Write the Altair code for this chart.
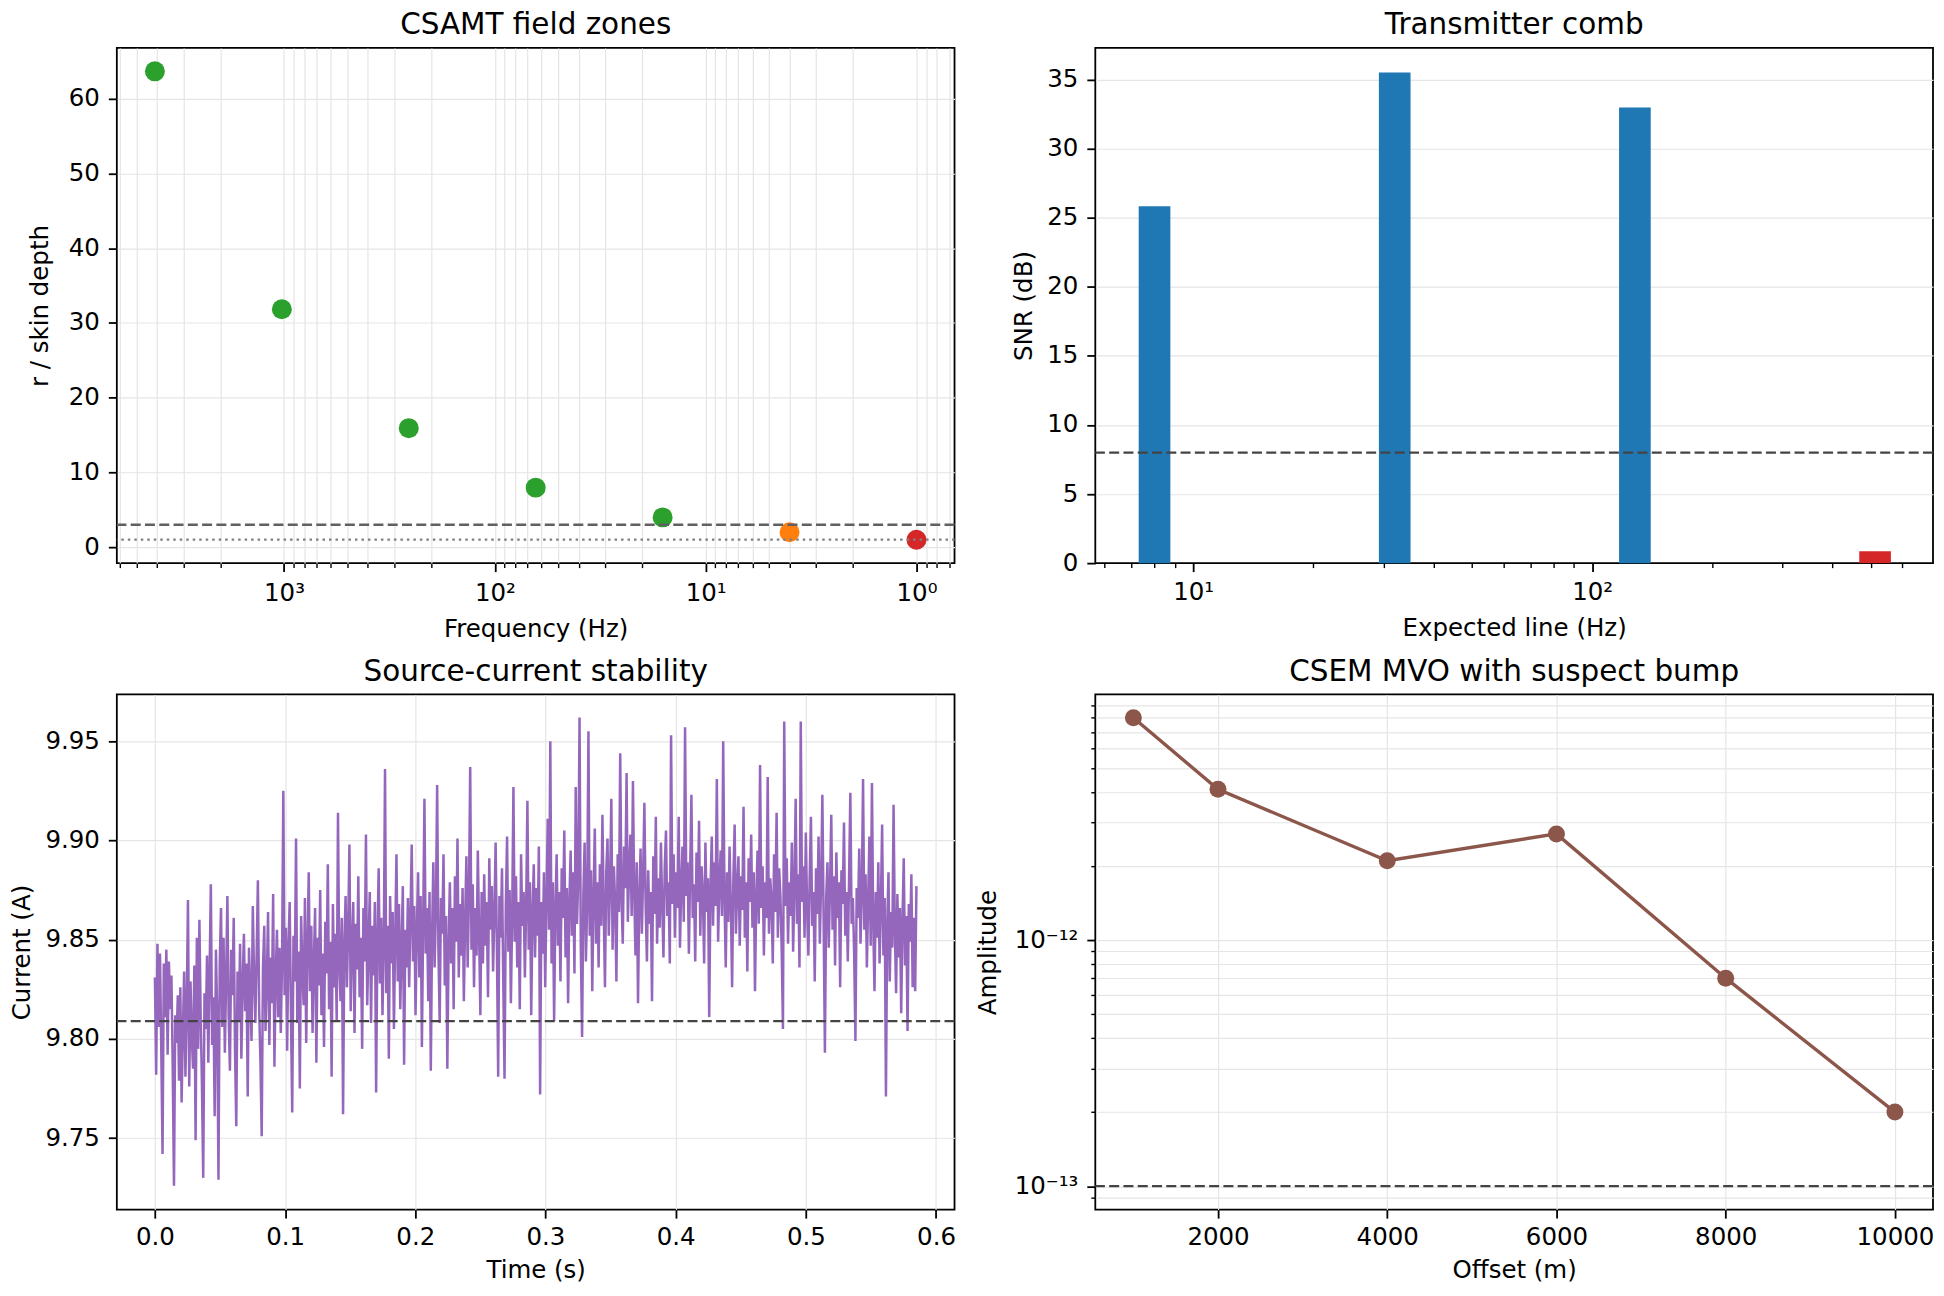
import altair as alt
import pandas as pd

FONT = "DejaVu Sans"

# ---------------- Panel 1: CSAMT field zones ----------------
zone_freq = [4096, 1024, 256, 64, 16, 4, 1]
zone_ratio = [63.66, 31.83, 15.92, 7.96, 3.98, 1.99, 0.995]
zone_class = ["far", "far", "far", "far", "far", "transition", "near"]
zone_names = ["far", "transition", "near"]
zone_colors = ["#2ca02c", "#ff7f0e", "#d62728"]
far_limit = [3.0]
near_limit = [1.0]
freq_major = [1, 10, 100, 1000]
freq_major_labels = ["10⁰", "10¹", "10²", "10³"]
freq_minor = [0.7, 0.8, 0.9, 2, 3, 4, 5, 6, 7, 8, 9, 20, 30, 40, 50, 60, 70, 80, 90,
              200, 300, 400, 500, 600, 700, 800, 900, 2000, 3000, 4000, 5000, 6000]
ratio_ticks = [0, 10, 20, 30, 40, 50, 60]

# ---------------- Panel 2: Transmitter comb ----------------
comb_freq = [8, 32, 128, 512]
comb_snr = [25.84, 35.52, 32.98, 0.86]
comb_status = ["detected", "detected", "detected", "missed"]
comb_names = ["detected", "missed"]
comb_colors = ["#1f77b4", "#d62728"]
snr_limit = [8.0]
line_major = [10, 100]
line_major_labels = ["10¹", "10²"]
line_minor = [6, 7, 8, 9, 20, 30, 40, 50, 60, 70, 80, 90, 200, 300, 400, 500, 600]
snr_ticks = [0, 5, 10, 15, 20, 25, 30, 35]

# ---------------- Panel 3: Source-current stability ----------------
sample_rate = 1024
current = [
    9.831, 9.782, 9.848, 9.806, 9.843, 9.795, 9.742, 9.838, 9.811, 9.845,
    9.792, 9.839, 9.815, 9.832, 9.786, 9.726, 9.812, 9.798, 9.822, 9.779,
    9.826, 9.768, 9.804, 9.834, 9.781, 9.815, 9.870, 9.776, 9.829, 9.801,
    9.785, 9.837, 9.749, 9.851, 9.795, 9.860, 9.811, 9.777, 9.730, 9.823,
    9.805, 9.842, 9.788, 9.833, 9.878, 9.797, 9.821, 9.761, 9.845, 9.812,
    9.729, 9.838, 9.866, 9.806, 9.851, 9.793, 9.829, 9.872, 9.812, 9.784,
    9.845, 9.822, 9.861, 9.795, 9.756, 9.834, 9.809, 9.848, 9.790, 9.827,
    9.853, 9.814, 9.838, 9.771, 9.846, 9.823, 9.799, 9.867, 9.831, 9.808,
    9.842, 9.880, 9.815, 9.789, 9.751, 9.836, 9.857, 9.804, 9.829, 9.864,
    9.797, 9.841, 9.818, 9.873, 9.786, 9.832, 9.855, 9.811, 9.846, 9.803,
    9.838, 9.925, 9.822, 9.856, 9.794, 9.847, 9.869, 9.813, 9.763, 9.852,
    9.829, 9.901, 9.808, 9.844, 9.775, 9.862, 9.835, 9.817, 9.871, 9.798,
    9.846, 9.884, 9.824, 9.857, 9.803, 9.839, 9.866, 9.788, 9.851, 9.827,
    9.875, 9.812, 9.843, 9.796, 9.859, 9.833, 9.888, 9.815, 9.849, 9.781,
    9.868, 9.826, 9.853, 9.809, 9.914, 9.837, 9.819, 9.861, 9.762, 9.848,
    9.872, 9.826, 9.855, 9.898, 9.814, 9.847, 9.869, 9.803, 9.858, 9.835,
    9.882, 9.821, 9.851, 9.795, 9.866, 9.839, 9.903, 9.817, 9.846, 9.874,
    9.808, 9.857, 9.832, 9.869, 9.773, 9.851, 9.886, 9.828, 9.861, 9.812,
    9.845, 9.936, 9.823, 9.857, 9.790, 9.872, 9.838, 9.864, 9.805, 9.851,
    9.893, 9.829, 9.868, 9.815, 9.846, 9.877, 9.787, 9.855, 9.836, 9.871,
    9.826, 9.861, 9.898, 9.839, 9.867, 9.812, 9.855, 9.884, 9.831, 9.872,
    9.796, 9.858, 9.921, 9.843, 9.866, 9.819, 9.874, 9.784, 9.852, 9.889,
    9.836, 9.864, 9.928, 9.845, 9.808, 9.871, 9.853, 9.893, 9.827, 9.862,
    9.785, 9.847, 9.879, 9.838, 9.866, 9.815, 9.882, 9.849, 9.901, 9.831,
    9.868, 9.842, 9.876, 9.819, 9.859, 9.892, 9.836, 9.871, 9.937, 9.845,
    9.878, 9.826, 9.866, 9.842, 9.895, 9.853, 9.812, 9.874, 9.838, 9.883,
    9.847, 9.869, 9.821, 9.891, 9.855, 9.877, 9.834, 9.862, 9.899, 9.846,
    9.781, 9.872, 9.851, 9.886, 9.829, 9.780, 9.867, 9.902, 9.844, 9.875,
    9.818, 9.861, 9.927, 9.849, 9.882, 9.836, 9.869, 9.815, 9.893, 9.857,
    9.874, 9.831, 9.866, 9.920, 9.845, 9.879, 9.812, 9.863, 9.888, 9.841,
    9.876, 9.852, 9.897, 9.772, 9.869, 9.843, 9.884, 9.826, 9.871, 9.911,
    9.855, 9.950, 9.838, 9.879, 9.809, 9.866, 9.893, 9.847, 9.874, 9.829,
    9.886, 9.861, 9.905, 9.841, 9.876, 9.818, 9.869, 9.895, 9.852, 9.884,
    9.833, 9.927, 9.858, 9.881, 9.962, 9.846, 9.801, 9.873, 9.899, 9.839,
    9.867, 9.955, 9.852, 9.885, 9.824, 9.871, 9.906, 9.848, 9.879, 9.836,
    9.888, 9.857, 9.913, 9.866, 9.826, 9.884, 9.901, 9.852, 9.878, 9.921,
    9.845, 9.887, 9.869, 9.829, 9.893, 9.864, 9.944, 9.871, 9.848, 9.897,
    9.876, 9.934, 9.859, 9.885, 9.903, 9.862, 9.930, 9.874, 9.842, 9.889,
    9.818, 9.871, 9.896, 9.853, 9.882, 9.919, 9.867, 9.839, 9.885, 9.858,
    9.874, 9.819, 9.892, 9.863, 9.912, 9.848, 9.881, 9.856, 9.899, 9.868,
    9.841, 9.886, 9.905, 9.862, 9.879, 9.838, 9.953, 9.868, 9.893, 9.851,
    9.884, 9.866, 9.912, 9.846, 9.877, 9.897, 9.859, 9.957, 9.872, 9.889,
    9.843, 9.884, 9.923, 9.861, 9.878, 9.839, 9.894, 9.869, 9.910, 9.852,
    9.887, 9.873, 9.838, 9.899, 9.864, 9.881, 9.811, 9.876, 9.902, 9.857,
    9.889, 9.867, 9.931, 9.849, 9.878, 9.895, 9.862, 9.950, 9.871, 9.836,
    9.884, 9.859, 9.897, 9.868, 9.826, 9.881, 9.908, 9.853, 9.876, 9.892,
    9.847, 9.882, 9.865, 9.917, 9.851, 9.879, 9.834, 9.891, 9.869, 9.903,
    9.856, 9.884, 9.824, 9.871, 9.895, 9.858, 9.938, 9.866, 9.887, 9.842,
    9.879, 9.861, 9.932, 9.853, 9.881, 9.870, 9.838, 9.893, 9.864, 9.914,
    9.851, 9.886, 9.872, 9.845, 9.805, 9.960, 9.867, 9.891, 9.848, 9.879,
    9.862, 9.899, 9.844, 9.877, 9.921, 9.858, 9.883, 9.836, 9.960, 9.869,
    9.887, 9.851, 9.904, 9.866, 9.842, 9.881, 9.912, 9.857, 9.874, 9.829,
    9.886, 9.863, 9.902, 9.848, 9.879, 9.923, 9.859, 9.793, 9.871, 9.889,
    9.846, 9.876, 9.913, 9.855, 9.882, 9.837, 9.894, 9.861, 9.879, 9.826,
    9.885, 9.868, 9.909, 9.852, 9.874, 9.839, 9.881, 9.924, 9.858, 9.871,
    9.843, 9.799, 9.876, 9.861, 9.896, 9.848, 9.872, 9.931, 9.855, 9.883,
    9.836, 9.869, 9.902, 9.847, 9.929, 9.858, 9.824, 9.874, 9.851, 9.889,
    9.838, 9.866, 9.908, 9.842, 9.871, 9.771, 9.857, 9.884, 9.829, 9.864,
    9.846, 9.918, 9.855, 9.823, 9.873, 9.841, 9.866, 9.813, 9.859, 9.891,
    9.837, 9.862, 9.804, 9.868, 9.849, 9.883, 9.826, 9.861, 9.824, 9.877,
]
current_limit = [9.809]
time_ticks = [0.0, 0.1, 0.2, 0.3, 0.4, 0.5, 0.6]
current_ticks = [9.75, 9.80, 9.85, 9.90, 9.95]

# ---------------- Panel 4: CSEM MVO ----------------
mvo_offset = [1000, 2000, 4000, 6000, 8000, 10000]
mvo_amp = [8.0e-12, 4.1e-12, 2.1e-12, 2.7e-12, 7.0e-13, 2.0e-13]
amp_limit = [1e-13]
offset_ticks = [2000, 4000, 6000, 8000, 10000]
amp_major = [1e-13, 1e-12]
amp_major_labels = ["10⁻¹³", "10⁻¹²"]
amp_minor = [9e-14, 2e-13, 3e-13, 4e-13, 5e-13, 6e-13, 7e-13, 8e-13, 9e-13,
             2e-12, 3e-12, 4e-12, 5e-12, 6e-12, 7e-12, 8e-12, 9e-12]

W, H = 839, 516
TICK_MAJOR, TICK_MINOR = 8.5, 4.5
DASH = [10, 4.3]


def label_expr(values, labels):
    parts = [f"datum.value == {v!r} ? '{s}'" for v, s in zip(values, labels)]
    return " : ".join(parts) + " : ''"


def minor_axis(values, orient, grid):
    return alt.Axis(title=None, orient=orient, values=values, labels=False,
                    tickSize=TICK_MINOR, tickWidth=1.4, grid=grid)


# ---- Panel 1 ----
zone_df = pd.DataFrame({"freq": zone_freq, "ratio": zone_ratio, "zone": zone_class})
xs1 = alt.Scale(type="log", domain=[0.66, 6209], reverse=True, nice=False)
ys1 = alt.Scale(domain=[-2.14, 66.79], nice=False, zero=False)
y1 = alt.Y("ratio:Q", scale=ys1,
           axis=alt.Axis(title="r / skin depth", values=ratio_ticks, titlePadding=16))
x1 = alt.X("freq:Q", scale=xs1,
           axis=alt.Axis(title="Frequency (Hz)", orient="bottom", values=freq_major,
                         labelExpr=label_expr(freq_major, freq_major_labels),
                         labelPadding=10.4, titlePadding=11.8))
pts1 = alt.Chart(zone_df).mark_circle(size=400, opacity=1).encode(
    x=x1, y=y1,
    color=alt.Color("zone:N", scale=alt.Scale(domain=zone_names, range=zone_colors), legend=None),
)
minor1 = alt.Chart(zone_df).mark_circle(opacity=0).encode(
    x=alt.X("freq:Q", scale=xs1, axis=minor_axis(freq_minor, "bottom", True)), y=y1)
far_rule = alt.Chart(pd.DataFrame({"ratio": far_limit})).mark_rule(
    color="#606060", strokeWidth=2.4, strokeDash=DASH).encode(y="ratio:Q")
near_rule = alt.Chart(pd.DataFrame({"ratio": near_limit})).mark_rule(
    color="#808080", strokeWidth=2.4, strokeDash=[2.5, 4]).encode(y="ratio:Q")
p1 = alt.layer(
    alt.layer(pts1, far_rule, near_rule), minor1
).resolve_axis(x="independent").properties(width=W, height=H, title="CSAMT field zones")

# ---- Panel 2 ----
comb_df = pd.DataFrame({"freq": comb_freq, "snr": comb_snr, "status": comb_status})
xs2 = alt.Scale(type="log", domain=[5.85, 695], nice=False)
ys2 = alt.Scale(domain=[0, 37.3], nice=False)
y2 = alt.Y("snr:Q", scale=ys2,
           axis=alt.Axis(title="SNR (dB)", values=snr_ticks, titlePadding=10,
                         gridOpacity={"condition": {"test": "datum.value == 0", "value": 0}, "value": 1}))
bars = alt.Chart(comb_df).mark_bar(size=31.7, orient="vertical").encode(
    x=alt.X("freq:Q", scale=xs2,
            axis=alt.Axis(title="Expected line (Hz)", orient="bottom", values=line_major,
                          labelExpr=label_expr(line_major, line_major_labels), grid=False,
                          labelPadding=9.3, titlePadding=11.8)),
    y=y2,
    color=alt.Color("status:N", scale=alt.Scale(domain=comb_names, range=comb_colors), legend=None),
)
minor2 = alt.Chart(comb_df).mark_circle(opacity=0).encode(
    x=alt.X("freq:Q", scale=xs2, axis=minor_axis(line_minor, "bottom", False)), y=y2)
snr_rule = alt.Chart(pd.DataFrame({"snr": snr_limit})).mark_rule(
    color="#444444", strokeWidth=2.4, strokeDash=DASH).encode(y="snr:Q")
p2 = alt.layer(
    alt.layer(bars, snr_rule), minor2
).resolve_axis(x="independent").properties(width=W, height=H, title="Transmitter comb")

# ---- Panel 3 ----
cur_df = pd.DataFrame({"t": [i / sample_rate for i in range(len(current))], "current": current})
line3 = alt.Chart(cur_df).mark_line(color="#9467bd", strokeWidth=2.5).encode(
    x=alt.X("t:Q", scale=alt.Scale(domain=[-0.02925, 0.61421], nice=False, zero=False),
            axis=alt.Axis(title="Time (s)", values=time_ticks, format=".1f",
                          labelPadding=7.6, titlePadding=9.8)),
    y=alt.Y("current:Q", scale=alt.Scale(domain=[9.714, 9.9736], nice=False, zero=False),
            axis=alt.Axis(title="Current (A)", values=current_ticks, format=".2f", titlePadding=10.5)),
)
cur_rule = alt.Chart(pd.DataFrame({"current": current_limit})).mark_rule(
    color="#444444", strokeWidth=2.4, strokeDash=DASH).encode(y="current:Q")
p3 = alt.layer(line3, cur_rule).properties(width=W, height=H, title="Source-current stability")

# ---- Panel 4 ----
mvo_df = pd.DataFrame({"offset": mvo_offset, "amp": mvo_amp})
xs4 = alt.Scale(domain=[550, 10450], nice=False, zero=False)
ys4 = alt.Scale(type="log", domain=[8.03e-14, 9.956e-12], nice=False)
x4 = alt.X("offset:Q", scale=xs4,
           axis=alt.Axis(title="Offset (m)", values=offset_ticks, format="d",
                         labelPadding=7.6, titlePadding=9.8))
y4 = alt.Y("amp:Q", scale=ys4,
           axis=alt.Axis(title="Amplitude", orient="left", values=amp_major,
                         labelExpr=label_expr(amp_major, amp_major_labels), titlePadding=14))
line4 = alt.Chart(mvo_df).mark_line(color="#8c564b", strokeWidth=3.4).encode(x=x4, y=y4)
pts4 = alt.Chart(mvo_df).mark_circle(color="#8c564b", size=289, opacity=1).encode(x=x4, y=y4)
minor4 = alt.Chart(mvo_df).mark_circle(opacity=0).encode(
    x=x4, y=alt.Y("amp:Q", scale=ys4, axis=minor_axis(amp_minor, "left", True)))
amp_rule = alt.Chart(pd.DataFrame({"amp": amp_limit})).mark_rule(
    color="#444444", strokeWidth=2.4, strokeDash=DASH).encode(y="amp:Q")
p4 = alt.layer(
    alt.layer(line4, pts4, amp_rule), minor4
).resolve_axis(y="independent").properties(width=W, height=H, title="CSEM MVO with suspect bump")

chart = alt.concat(
    p1, p2, p3, p4, columns=2, spacing={"row": 131.5, "column": 141}, bounds="flush"
).resolve_scale(
    color="independent"
).properties(
    padding={"left": 0, "top": 0, "right": 0, "bottom": 0}
).configure(
    font=FONT
).configure_view(
    stroke="black", strokeWidth=1.8
).configure_axis(
    labelFont=FONT, titleFont=FONT, labelFontSize=24.5, titleFontSize=24.5,
    labelColor="black", titleColor="black", titleFontWeight="normal",
    tickColor="black", tickWidth=1.8, tickSize=TICK_MAJOR, domain=False,
    grid=True, gridColor="#e5e5e5", gridWidth=1.2,
    labelFlush=False, labelOverlap=False, labelPadding=9,
).configure_title(
    font=FONT, fontSize=29.5, fontWeight="normal", color="black",
    anchor="middle", frame="group", baseline="alphabetic", offset=7,
)

chart.save("out.html", embed_options={"renderer": "svg", "actions": False})
